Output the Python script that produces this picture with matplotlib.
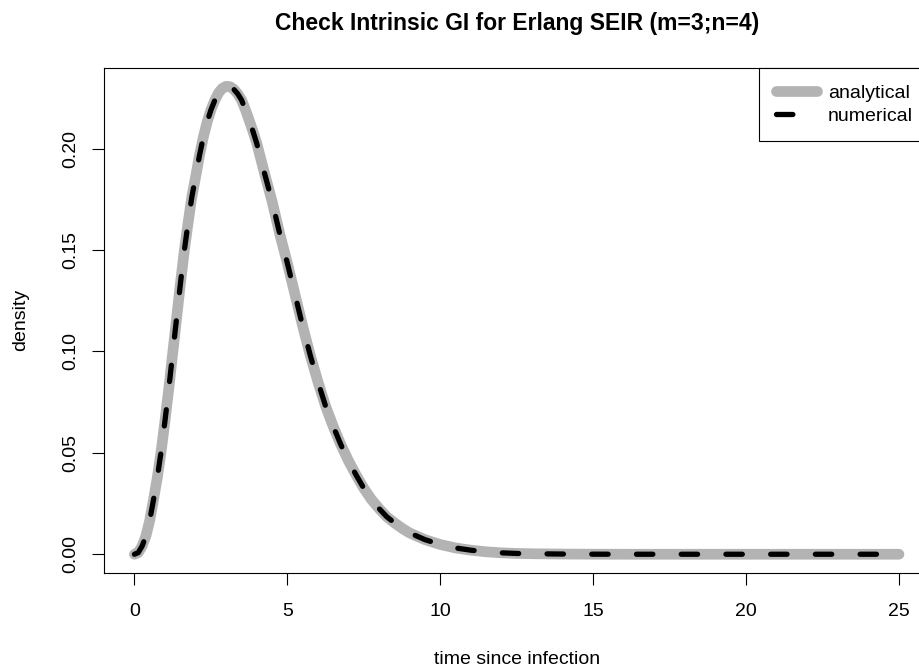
import matplotlib
matplotlib.use("Agg")
import matplotlib.pyplot as plt

plt.rcParams['font.family'] = ['Liberation Sans', 'DejaVu Sans']
plt.rcParams['lines.scale_dashes'] = False

# ---- data ----
time_since_infection = [0, 0.125, 0.25, 0.375, 0.5, 0.625, 0.75, 0.875, 1.0, 1.125, 1.25,
                        1.375, 1.5, 1.625, 1.75, 1.875, 2.0, 2.125, 2.25, 2.375, 2.5,
                        2.625, 2.75, 2.875, 3.0, 3.125, 3.25, 3.375, 3.5, 3.625, 3.75,
                        3.875, 4.0, 4.25, 4.5, 4.75, 5.0, 5.25, 5.5, 5.75, 6.0, 6.25,
                        6.5, 6.75, 7.0, 7.25, 7.5, 7.75, 8.0, 8.25, 8.5, 8.75, 9.0, 9.5,
                        10.0, 10.5, 11.0, 11.5, 12.0, 12.5, 13.0, 14.0, 15.0, 16.0, 17.0,
                        18.0, 19.0, 20.0, 21.0, 22.0, 23.0, 24.0, 25.0]
analytical_density = [0.0, 0.0008, 0.004, 0.009, 0.0167, 0.027, 0.038, 0.051, 0.066, 0.082,
                      0.099, 0.116, 0.133, 0.149, 0.163, 0.176, 0.186, 0.1965, 0.2055,
                      0.213, 0.219, 0.2237, 0.2275, 0.2297, 0.2307, 0.2305, 0.2292, 0.227,
                      0.224, 0.2193, 0.214, 0.2085, 0.2025, 0.188, 0.174, 0.158, 0.1435,
                      0.128, 0.1125, 0.098, 0.085, 0.073, 0.063, 0.054, 0.046, 0.039,
                      0.0325, 0.027, 0.0225, 0.0185, 0.0155, 0.0128, 0.0105, 0.0072,
                      0.0048, 0.0031, 0.002, 0.0012, 0.0007, 0.0004, 0.00025, 0.0001,
                      0.00003, 0.0, 0.0, 0.0, 0.0, 0.0, 0.0, 0.0, 0.0, 0.0, 0.0]
numerical_density = list(analytical_density)

x_ticks = [0, 5, 10, 15, 20, 25]
y_ticks = [0.00, 0.05, 0.10, 0.15, 0.20]
y_tick_labels = ["0.00", "0.05", "0.10", "0.15", "0.20"]
series_labels = ["analytical", "numerical"]
title = "Check Intrinsic GI for Erlang SEIR (m=3;n=4)"

# ---- figure ----
fig = plt.figure(figsize=(9.2, 6.71), dpi=100)
ax = fig.add_axes([0.1129, 0.1461, 0.8975, 0.7532])

ax.plot(time_since_infection, analytical_density, color='#B3B3B3', lw=7.7,
        solid_capstyle='round', solid_joinstyle='round', label=series_labels[0])
ax.plot(time_since_infection, numerical_density, color='black', lw=3.8,
        dashes=(11.8, 20.4), dash_capstyle='round', dash_joinstyle='round',
        label=series_labels[1])

xmin, xmax = min(time_since_infection), max(time_since_infection)
ymin, ymax = min(analytical_density), max(analytical_density)
xr, yr = xmax - xmin, ymax - ymin
ax.set_xlim(xmin - 0.04 * xr, xmax + 0.04 * xr)
ax.set_ylim(ymin - 0.04 * yr, ymax + 0.04 * yr)

ax.set_xticks(x_ticks)
ax.set_yticks(y_ticks)
ax.set_yticklabels(y_tick_labels)
ax.tick_params(axis='both', direction='out', length=8.6, width=0.8, colors='black',
               labelsize=14)
ax.tick_params(axis='x', pad=13)
ax.tick_params(axis='y', pad=9, labelrotation=90)
for lab in ax.get_yticklabels():
    lab.set_va('center')

for sp in ax.spines.values():
    sp.set_linewidth(0.8)
    sp.set_color('black')

ax.set_xlabel("time since infection", fontsize=14, labelpad=22)
ax.set_ylabel("density", fontsize=14, labelpad=24)
ax.set_title(title, fontsize=16.5, fontweight='bold', pad=27)

leg = ax.legend(loc='upper right', bbox_to_anchor=(1, 1), borderaxespad=0,
                fontsize=14, frameon=True, fancybox=False, framealpha=1,
                edgecolor='black', handlelength=2.12, handletextpad=0.57,
                borderpad=0.85, labelspacing=0.27)
leg.get_frame().set_linewidth(0.8)

fig.savefig("out.png", dpi=100)
